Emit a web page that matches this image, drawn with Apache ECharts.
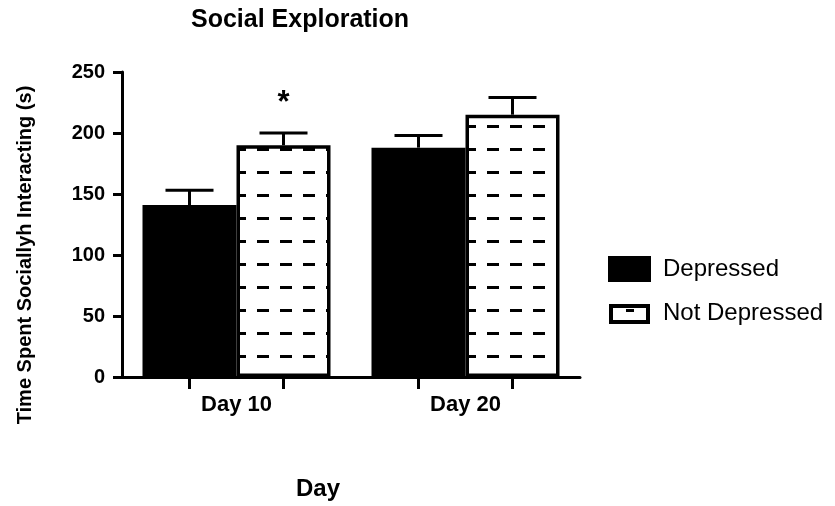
<!DOCTYPE html>
<html>
<head>
<meta charset="utf-8">
<script src="https://cdn.jsdelivr.net/npm/echarts@6/dist/echarts.min.js"></script>
<style>
  html, body { margin: 0; padding: 0; background: #fff; }
  #chart { width: 835px; height: 506px; }
</style>
</head>
<body>
<div id="chart"></div>
<script>
const days          = ['Day 10', 'Day 20'];
const depressed     = [141, 188];
const depressedErr  = [12, 10];
const notDepressed  = [190, 215];
const notDepErr     = [10, 14];
const notDepMarks   = ['*', ''];
const yTicks        = { min: 0, max: 250, step: 50 };

const FONT = '"Liberation Sans", Arial, Helvetica, sans-serif';
const BAR_W = 94;

// white tile with one short black dash -> dashed hatch
function makeHatch() {
  const c = document.createElement('canvas');
  c.width = 23; c.height = 23;
  const g = c.getContext('2d');
  g.fillStyle = '#fff';
  g.fillRect(0, 0, 23, 23);
  g.fillStyle = '#000';
  g.fillRect(4, 10, 12, 3);
  return c;
}

// legend swatch for the hatched series: thick box, one dash near the top
function makeSwatch() {
  const c = document.createElement('canvas');
  c.width = 41; c.height = 24;
  const g = c.getContext('2d');
  g.fillStyle = '#000';
  g.fillRect(0, 3, 41, 20);
  g.fillStyle = '#fff';
  g.fillRect(4, 7, 33, 12);
  g.fillStyle = '#000';
  g.fillRect(17, 8, 8, 3);
  return 'image://' + c.toDataURL();
}

// error bar (up only) + tick under the bar + optional significance mark
function errorRenderer(offset, marks) {
  return function (params, api) {
    const i = api.value(0);
    const base = api.coord([i, 0]);
    const top  = api.coord([i, api.value(1)]);
    const hi   = api.coord([i, api.value(1) + api.value(2)]);
    const x = top[0] + offset;
    const st = { stroke: '#000', lineWidth: 3 };
    const kids = [
      { type: 'line', shape: { x1: x, y1: top[1], x2: x, y2: hi[1] }, style: st },
      { type: 'line', shape: { x1: x - 24, y1: hi[1], x2: x + 24, y2: hi[1] }, style: st },
      { type: 'line', shape: { x1: x, y1: base[1], x2: x, y2: base[1] + 12 }, style: st },
    ];
    if (marks && marks[i]) {
      kids.push({
        type: 'text', x: x, y: hi[1] - 14,
        style: { text: marks[i], fill: '#000', font: 'bold 31px ' + FONT,
                 textAlign: 'center', textVerticalAlign: 'bottom' },
      });
    }
    return { type: 'group', children: kids };
  };
}

const chart = echarts.init(document.getElementById('chart'), null, { renderer: 'canvas' });

chart.setOption({
  backgroundColor: '#fff',
  animation: false,
  title: {
    text: 'Social Exploration',
    left: 191, top: 8, padding: 0,
    textStyle: { color: '#000', fontSize: 25, fontWeight: 'bold', fontFamily: FONT },
  },
  legend: {
    orient: 'vertical',
    left: 603, top: 251,
    itemWidth: 41, itemHeight: 24, itemGap: 19,
    data: [
      { name: 'Depressed', icon: 'rect' },
      { name: 'Not Depressed', icon: makeSwatch() },
    ],
    textStyle: { color: '#000', fontSize: 24, fontFamily: FONT, padding: [0, 0, 0, 8] },
  },
  grid: { left: 122, right: 255, top: 72, bottom: 127, containLabel: false },
  xAxis: {
    type: 'category',
    data: days,
    name: 'Day',
    nameLocation: 'middle',
    nameGap: 100,
    nameTextStyle: { color: '#000', fontSize: 24, fontWeight: 'bold', fontFamily: FONT,
                     padding: [0, 66, 0, 0] },
    axisLine: { lineStyle: { color: '#000', width: 3 } },
    axisTick: { show: false },
    axisLabel: { color: '#000', fontSize: 22, fontWeight: 'bold', fontFamily: FONT, margin: 17 },
  },
  yAxis: {
    type: 'value',
    min: yTicks.min, max: yTicks.max, interval: yTicks.step,
    name: 'Time Spent Sociallyh Interacting (s)',
    nameLocation: 'middle',
    nameGap: 87,
    nameTextStyle: { color: '#000', fontSize: 20, fontWeight: 'bold', fontFamily: FONT,
                     padding: [0, 61, 0, 0] },
    axisLine: { show: true, lineStyle: { color: '#000', width: 3 } },
    axisTick: { show: true, length: 9, lineStyle: { color: '#000', width: 3 } },
    axisLabel: { color: '#000', fontSize: 20, fontWeight: 'bold', fontFamily: FONT, margin: 17 },
    splitLine: { show: false },
  },
  series: [
    {
      name: 'Depressed', type: 'bar', data: depressed,
      barWidth: BAR_W, barGap: '0%',
      itemStyle: { color: '#000', borderColor: '#000', borderWidth: 3 },
    },
    {
      name: 'Not Depressed', type: 'bar', data: notDepressed,
      barWidth: BAR_W, barGap: '0%',
      itemStyle: { color: { image: makeHatch(), repeat: 'repeat' }, borderColor: '#000', borderWidth: 3.5 },
    },
    {
      name: 'Depressed SEM', type: 'custom', z: 5,
      renderItem: errorRenderer(-BAR_W / 2),
      data: days.map((d, i) => [i, depressed[i], depressedErr[i]]),
      encode: { x: 0, y: 1 },
    },
    {
      name: 'Not Depressed SEM', type: 'custom', z: 5,
      renderItem: errorRenderer(BAR_W / 2, notDepMarks),
      data: days.map((d, i) => [i, notDepressed[i], notDepErr[i]]),
      encode: { x: 0, y: 1 },
    },
  ],
});
</script>
</body>
</html>
